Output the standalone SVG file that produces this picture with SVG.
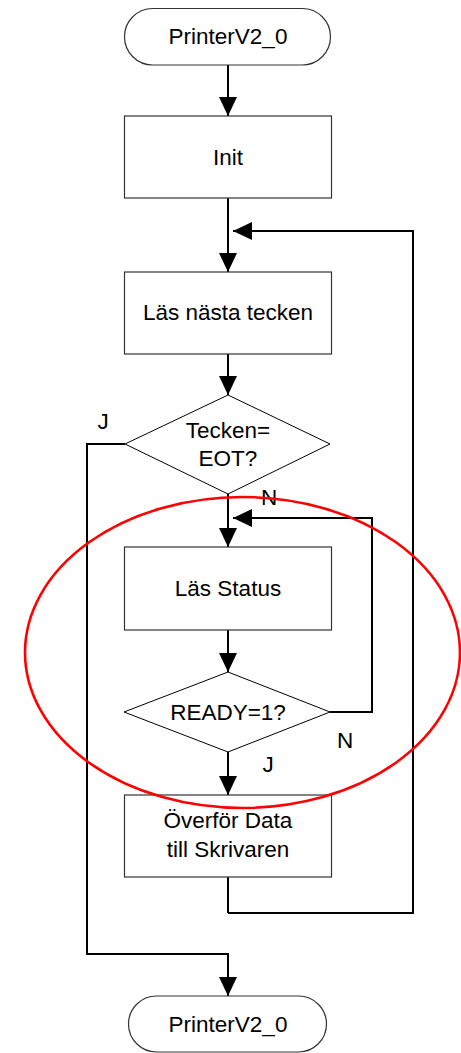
<svg xmlns="http://www.w3.org/2000/svg" width="461" height="1053" viewBox="0 0 461 1053">
<style>
.shape{fill:#fff;stroke:#333;stroke-width:1.2}
.dia{fill:#fff;stroke:#000;stroke-width:1}
.conn{fill:none;stroke:#000;stroke-width:2}
text{font-family:"Liberation Sans",Arial,sans-serif;font-size:22.5px;fill:#000;text-anchor:middle}
</style>
<defs>
<marker id="ah" markerUnits="userSpaceOnUse" markerWidth="20" markerHeight="19" refX="19" refY="9" orient="auto">
<path d="M0,0 L19,9 L0,18 Z" fill="#000"/>
</marker>
</defs>
<rect width="461" height="1053" fill="#fff"/>
<g id="connectors">
<line class="conn" x1="228" y1="65" x2="228" y2="116" marker-end="url(#ah)"/>
<line class="conn" x1="228" y1="198" x2="228" y2="272" marker-end="url(#ah)"/>
<polyline class="conn" points="228,913 413,913 413,231 233,231" marker-end="url(#ah)"/>
<line class="conn" x1="228" y1="354" x2="228" y2="395" marker-end="url(#ah)"/>
<line class="conn" x1="228" y1="494" x2="228" y2="547" marker-end="url(#ah)"/>
<polyline class="conn" points="125,444 87,444 87,954 228,954 228,996" marker-end="url(#ah)"/>
<polyline class="conn" points="330,712 372,712 372,518 233,518" marker-end="url(#ah)"/>
<line class="conn" x1="228" y1="630" x2="228" y2="672" marker-end="url(#ah)"/>
<line class="conn" x1="228" y1="752" x2="228" y2="795" marker-end="url(#ah)"/>
<line class="conn" x1="228" y1="877" x2="228" y2="913"/>
<text x="103" y="429">J</text>
<text x="269" y="505">N</text>
<text x="345" y="748">N</text>
<text x="268" y="772">J</text>
</g>
<g id="start">
<rect class="shape" x="124.5" y="8.5" width="206" height="56.5" rx="28.25"/>
<text x="228" y="44">PrinterV2_0</text>
</g>
<g id="init">
<rect class="shape" x="124.5" y="116" width="207" height="82"/>
<text x="228" y="165">Init</text>
</g>
<g id="las-nasta">
<rect class="shape" x="124.5" y="272" width="207" height="82"/>
<text x="228" y="320">Läs nästa tecken</text>
</g>
<g id="eot">
<polygon class="dia" points="228,395 330,444 228,494 125,444"/>
<text x="228" y="438">Tecken=</text>
<text x="228" y="466">EOT?</text>
</g>
<g id="las-status">
<rect class="shape" x="124.5" y="547" width="207" height="83"/>
<text x="228" y="596">Läs Status</text>
</g>
<g id="ready">
<polygon class="dia" points="228,672 330,712 228,752 124,712"/>
<text x="228" y="719.5">READY=1?</text>
</g>
<g id="overfor">
<rect class="shape" x="124.5" y="795" width="207" height="82"/>
<text x="228" y="828">Överför Data</text>
<text x="228" y="856.5">till Skrivaren</text>
</g>
<g id="end">
<rect class="shape" x="128.5" y="996" width="198" height="56" rx="28"/>
<text x="228" y="1031.5">PrinterV2_0</text>
</g>
<ellipse cx="242.5" cy="652.5" rx="217.5" ry="155.5" fill="none" stroke="#f00" stroke-width="2.6"/>
</svg>
